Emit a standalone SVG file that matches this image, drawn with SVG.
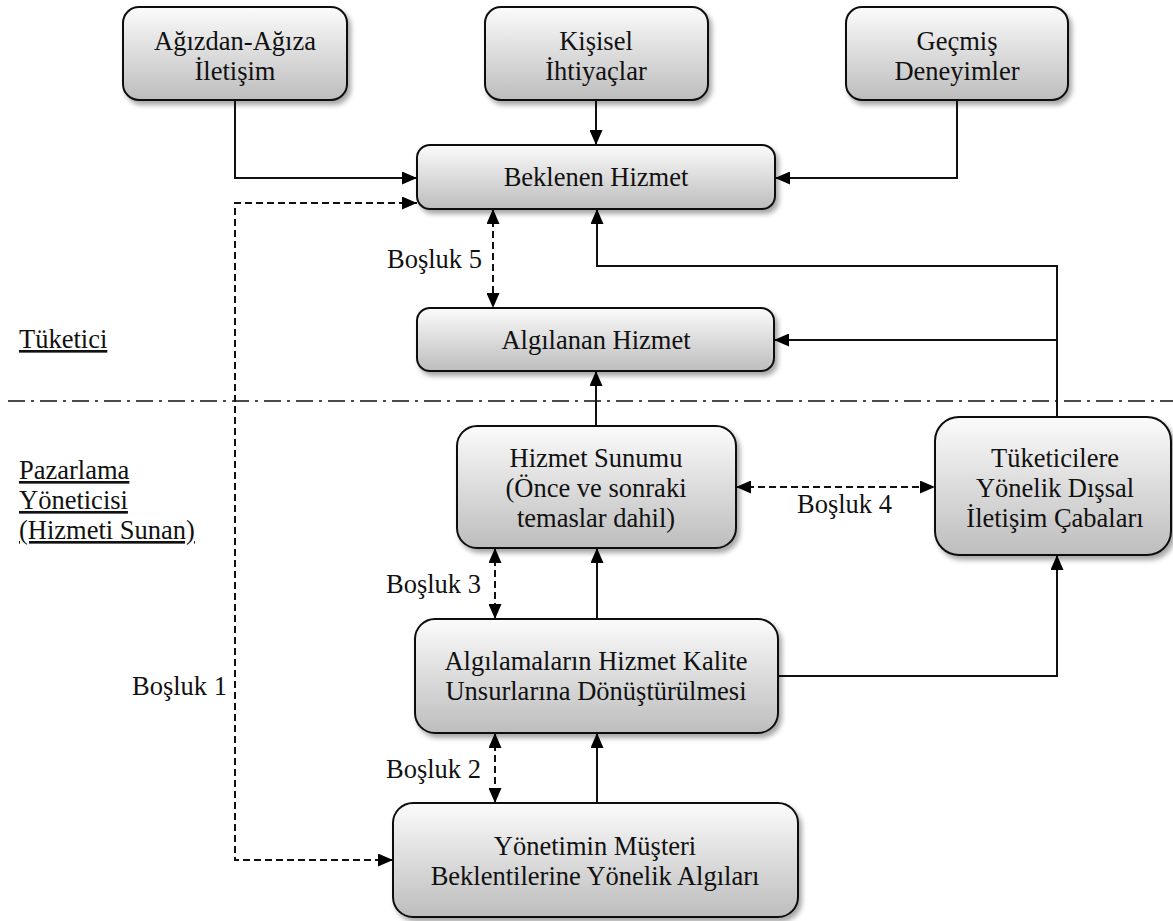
<svg xmlns="http://www.w3.org/2000/svg" width="1173" height="921" viewBox="0 0 1173 921" font-family="'Liberation Serif', 'DejaVu Serif', serif" font-size="26.5">
<style>
text{font-family:'Liberation Serif','DejaVu Serif',serif;font-size:26.5px;fill:#111}
.c{text-anchor:middle}
.e{text-anchor:end}
.box{fill:url(#g);stroke:#111;stroke-width:2;filter:url(#sh)}
.ln{fill:none;stroke:#111;stroke-width:2}
.ds{fill:none;stroke:#111;stroke-width:2;stroke-dasharray:7 4}
.dd{fill:none;stroke:#111;stroke-width:1.6;stroke-dasharray:17 6 3 6}
</style>
<defs>
<linearGradient id="g" x1="0" y1="0" x2="0" y2="1">
<stop offset="0" stop-color="#fbfbfb"/>
<stop offset="1" stop-color="#bdbdbd"/>
</linearGradient>
<filter id="sh" x="-10%" y="-10%" width="125%" height="135%">
<feDropShadow dx="3" dy="4" stdDeviation="2.5" flood-color="#000" flood-opacity="0.35"/>
</filter>
<marker id="a" markerUnits="userSpaceOnUse" markerWidth="15" markerHeight="13" refX="15" refY="6.5" orient="auto-start-reverse" viewBox="0 0 15 13">
<path d="M0,0 L15,6.5 L0,13 Z" fill="#000"/>
</marker>
</defs>

<g id="separator">
<line class="dd" x1="8" y1="401" x2="1173" y2="401"/>
</g>

<g id="connectors">
<path class="ln" d="M235,100 V178 H417" marker-end="url(#a)"/>
<path class="ln" d="M596,100 V145" marker-end="url(#a)"/>
<path class="ln" d="M957,100 V178 H775" marker-end="url(#a)"/>
<path class="ds" d="M417,203 H235 V860 H393" marker-start="url(#a)" marker-end="url(#a)"/>
<path class="ds" d="M493,209 V308" marker-start="url(#a)" marker-end="url(#a)"/>
<path class="ln" d="M1057,417 V266 H597 V209" marker-end="url(#a)"/>
<path class="ln" d="M1057,340 H774" marker-end="url(#a)"/>
<path class="ln" d="M596,426 V371" marker-end="url(#a)"/>
<path class="ds" d="M736,487 H935" marker-start="url(#a)" marker-end="url(#a)"/>
<path class="ds" d="M495,548 V619" marker-start="url(#a)" marker-end="url(#a)"/>
<path class="ln" d="M597,619 V548" marker-end="url(#a)"/>
<path class="ln" d="M778,676 H1057 V555" marker-end="url(#a)"/>
<path class="ds" d="M495,733 V803" marker-start="url(#a)" marker-end="url(#a)"/>
<path class="ln" d="M597,803 V733" marker-end="url(#a)"/>
</g>

<g id="labels" font-family="'Liberation Serif', 'DejaVu Serif', serif">
<text x="19" y="348" text-decoration="underline">Tüketici</text>
<text x="19" y="479" text-decoration="underline">Pazarlama</text>
<text x="19" y="509" text-decoration="underline">Yöneticisi</text>
<text x="19" y="539" text-decoration="underline">(Hizmeti Sunan)</text>
<text class="e" x="482" y="268">Boşluk 5</text>
<text class="e" x="481" y="593">Boşluk 3</text>
<text class="e" x="481" y="778">Boşluk 2</text>
<text x="797" y="513">Boşluk 4</text>
<text class="e" x="227" y="695">Boşluk 1</text>
</g>

<g id="n-agizdan">
<rect class="box" x="123" y="7" width="224" height="93" rx="16"/>
<text class="c" x="235" y="50">Ağızdan-Ağıza</text>
<text class="c" x="235" y="80">İletişim</text>
</g>
<g id="n-kisisel">
<rect class="box" x="485" y="7" width="223" height="93" rx="16"/>
<text class="c" x="596" y="50">Kişisel</text>
<text class="c" x="596" y="80">İhtiyaçlar</text>
</g>
<g id="n-gecmis">
<rect class="box" x="846" y="7" width="222" height="93" rx="16"/>
<text class="c" x="957" y="50">Geçmiş</text>
<text class="c" x="957" y="80">Deneyimler</text>
</g>
<g id="n-beklenen">
<rect class="box" x="417" y="145" width="358" height="64" rx="13"/>
<text class="c" x="596" y="186">Beklenen Hizmet</text>
</g>
<g id="n-algilanan">
<rect class="box" x="417" y="308" width="357" height="63" rx="13"/>
<text class="c" x="596" y="349">Algılanan Hizmet</text>
</g>
<g id="n-sunum">
<rect class="box" x="457" y="426" width="279" height="122" rx="20"/>
<text class="c" x="596" y="467">Hizmet Sunumu</text>
<text class="c" x="596" y="497">(Önce ve sonraki</text>
<text class="c" x="596" y="527">temaslar dahil)</text>
</g>
<g id="n-dissal">
<rect class="box" x="935" y="417" width="236" height="138" rx="24"/>
<text class="c" x="1055" y="467">Tüketicilere</text>
<text class="c" x="1055" y="497">Yönelik Dışsal</text>
<text class="c" x="1055" y="527">İletişim Çabaları</text>
</g>
<g id="n-algilamalar">
<rect class="box" x="415" y="619" width="363" height="114" rx="20"/>
<text class="c" x="596" y="670">Algılamaların Hizmet Kalite</text>
<text class="c" x="596" y="700">Unsurlarına Dönüştürülmesi</text>
</g>
<g id="n-yonetim">
<rect class="box" x="393" y="803" width="405" height="114" rx="20"/>
<text class="c" x="595" y="855">Yönetimin Müşteri</text>
<text class="c" x="595" y="885">Beklentilerine Yönelik Algıları</text>
</g>
</svg>
